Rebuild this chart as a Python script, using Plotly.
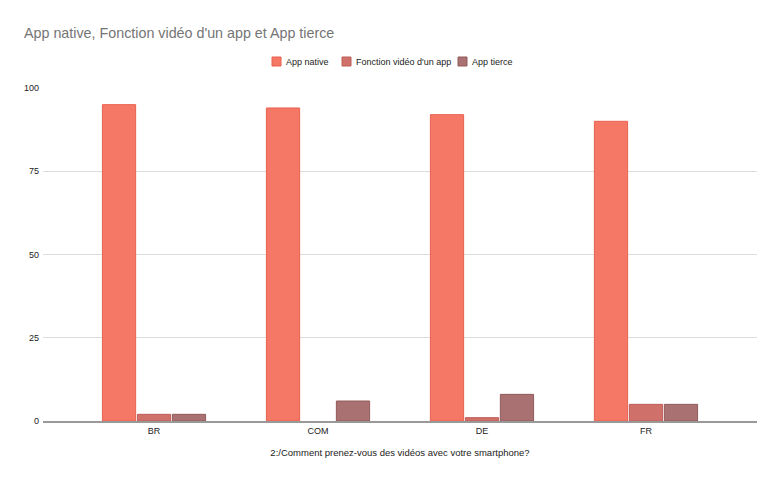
import plotly.graph_objects as go

categories = ["BR", "COM", "DE", "FR"]
app_native = [95, 94, 92, 90]
fonction_video = [2, 0, 1, 5]
app_tierce = [2, 6, 8, 5]
y_ticks = [0, 25, 50, 75, 100]

series = [
    ("App native", app_native, "#f57866", "#e8614f"),
    ("Fonction vidéo d'un app", fonction_video, "#d0706a", "#bf5d57"),
    ("App tierce", app_tierce, "#a97171", "#935a5a"),
]

# page has an 8px body margin, so work in figure pixels
W, H = 774, 476
ML, MR, MT, MB = 35, 25, 80, 63
PW, PH = W - ML - MR, H - MT - MB


def px_x(x):
    return (x - ML) / PW


def px_y(y):
    return (H - MB - y) / PH


fig = go.Figure()
for name, values, color, line in series:
    fig.add_trace(go.Bar(
        x=categories, y=values, name=name,
        marker=dict(color=color,
                    line=dict(color=line, width=[1 if v else 0 for v in values])),
    ))

# custom legend (tighter than plotly's own)
legend_x = [264, 334, 450]
for (name, _, color, line), lx in zip(series, legend_x):
    fig.add_shape(type="rect", xref="paper", yref="paper",
                  x0=px_x(lx), x1=px_x(lx + 9), y0=px_y(58), y1=px_y(49),
                  fillcolor=color, line=dict(color=line, width=1))
    fig.add_annotation(text=name, xref="paper", yref="paper",
                       x=px_x(lx + 12), y=px_y(54), xanchor="left", yanchor="middle",
                       showarrow=False, font=dict(size=9, color="#222222"))

fig.update_layout(
    width=W, height=H,
    margin=dict(l=ML, r=MR, t=MT, b=MB),
    paper_bgcolor="white", plot_bgcolor="white",
    font=dict(family="Arial, Liberation Sans, sans-serif", color="#222222", size=10),
    title=dict(text="App native, Fonction vidéo d'un app et App tierce",
               x=16 / W, xanchor="left", y=1 - 25 / H, yanchor="middle",
               font=dict(size=14.3, color="#757575")),
    barmode="group", bargap=0.36, bargroupgap=0.05,
    showlegend=False,
)
fig.update_xaxes(
    range=[-0.677, 3.677], showgrid=False, showline=True, linecolor="#999999", linewidth=2,
    ticks="", tickfont=dict(size=9),
    title=dict(text="2:/Comment prenez-vous des vidéos avec votre smartphone?",
               font=dict(size=9.5, color="#222222"), standoff=15),
)
fig.update_yaxes(
    range=[0, 100], tickvals=y_ticks, showgrid=True, gridcolor="#dddddd",
    zeroline=False, ticks="", tickfont=dict(size=9), ticklabelstandoff=3,
)

fig.write_html("out.html")
